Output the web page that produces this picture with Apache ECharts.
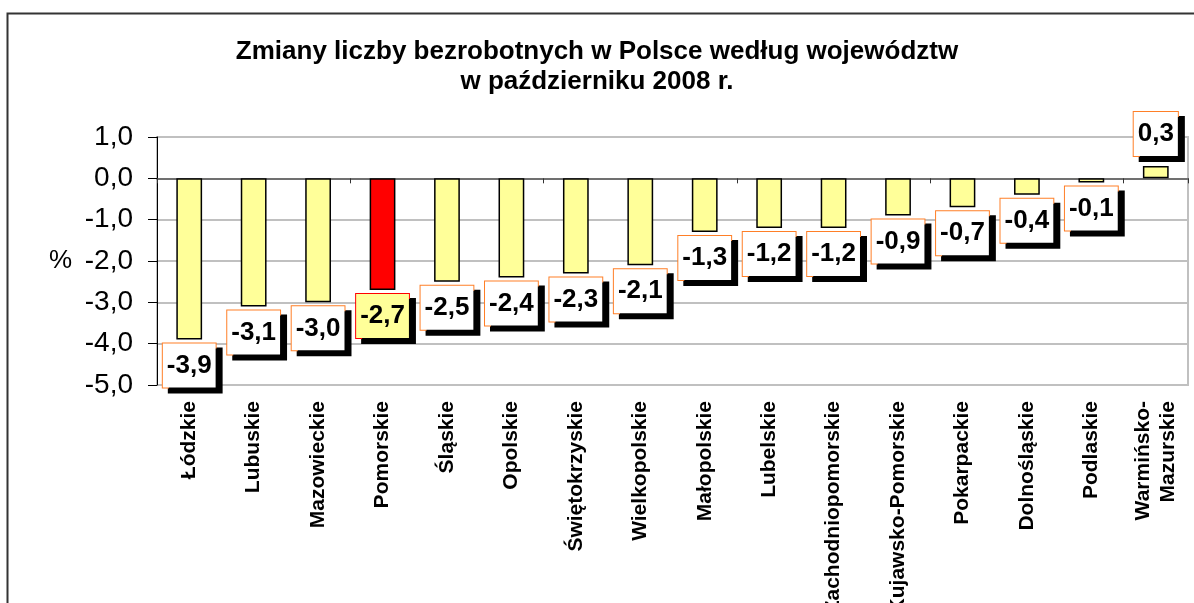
<!DOCTYPE html>
<html>
<head>
<meta charset="utf-8">
<script src="https://cdn.jsdelivr.net/npm/echarts@6/dist/echarts.min.js"></script>
<style>html,body{margin:0;padding:0;background:#fff;}#c{width:1194px;height:603px;}</style>
</head>
<body>
<div id="c"></div>
<script>
const categories = ['Łódzkie','Lubuskie','Mazowieckie','Pomorskie','Śląskie','Opolskie','Świętokrzyskie','Wielkopolskie','Małopolskie','Lubelskie','Zachodniopomorskie','Kujawsko-Pomorskie','Pokarpackie','Dolnośląskie','Podlaskie','Warmińsko-\nMazurskie'];
const values = [-3.9,-3.1,-3.0,-2.7,-2.5,-2.4,-2.3,-2.1,-1.3,-1.2,-1.2,-0.9,-0.7,-0.4,-0.1,0.3];
const highlight = 'Pomorskie';
const titleLines = ['Zmiany liczby bezrobotnych w Polsce według województw','w październiku 2008 r.'];

const FONT = '"Liberation Sans", Arial, sans-serif';
const fmt = v => v.toFixed(1).replace('.', ',');

const data = values.map((v, i) => {
  const hi = categories[i] === highlight;
  return {
    value: v,
    itemStyle: { color: hi ? '#FF0000' : '#FFFF99' },
    label: {
      position: v < 0 ? 'bottom' : 'top',
      distance: v < 0 ? 4 : 10,
      backgroundColor: hi ? '#FFFF99' : '#FFFFFF',
      borderColor: hi ? '#FF0000' : '#FF7F27'
    }
  };
});

const chart = echarts.init(document.getElementById('c'), null, { renderer: 'canvas' });
chart.setOption({
  animation: false,
  backgroundColor: '#fff',
  textStyle: { fontFamily: FONT },
  title: {
    text: titleLines.join('\n'),
    left: 'center',
    top: 32,
    textStyle: { fontFamily: FONT, fontSize: 26, fontWeight: 'bold', color: '#000', lineHeight: 30 }
  },
  graphic: [{
    type: 'rect', silent: true, z: -1,
    shape: { x: 7.5, y: 13.5, width: 1300, height: 800 },
    style: { fill: 'none', stroke: '#333', lineWidth: 2 }
  }],
  grid: { left: 157, right: 6, top: 137, bottom: 218, containLabel: false, outerBoundsMode: 'none', show: true, borderColor: '#C0C0C0', borderWidth: 2, backgroundColor: 'transparent' },
  xAxis: [{
    type: 'category',
    data: categories,
    position: 'bottom',
    axisLine: { show: false, onZero: false },
    axisTick: { show: false },
    axisLabel: { interval: 0, rotate: 90, margin: 16, fontFamily: FONT, fontSize: 21, fontWeight: 'bold', color: '#000', lineHeight: 25 }
  }, {
    type: 'category',
    data: categories,
    position: 'bottom',
    axisLine: { show: true, onZero: true, lineStyle: { color: '#555', width: 1.5 } },
    axisTick: { show: true, length: 5, lineStyle: { color: '#333', width: 1 } },
    axisLabel: { show: false }
  }],
  yAxis: {
    type: 'value',
    min: -5, max: 1, interval: 1,
    name: '%',
    nameLocation: 'middle',
    nameRotate: 0,
    nameGap: 85,
    nameTextStyle: { fontFamily: FONT, fontSize: 26, color: '#000' },
    axisLine: { show: true, lineStyle: { color: '#000', width: 1 } },
    axisTick: { show: true, length: 9, lineStyle: { color: '#000' } },
    axisLabel: { margin: 24, fontFamily: FONT, fontSize: 28, color: '#000', formatter: v => fmt(v) },
    splitLine: { show: true, lineStyle: { color: '#C0C0C0', width: 2 } }
  },
  series: [{
    type: 'bar',
    xAxisIndex: 0,
    data: data,
    barWidth: '40%',
    itemStyle: { borderColor: '#000', borderWidth: 1.5 },
    label: {
      show: true,
      formatter: p => fmt(p.value),
      fontFamily: FONT, fontSize: 26, fontWeight: 'bold', color: '#000',
      lineHeight: 26,
      padding: [9, 4, 9, 4],
      borderWidth: 1,
      shadowColor: '#000', shadowBlur: 0, shadowOffsetX: 6, shadowOffsetY: 5
    }
  }]
});
</script>
</body>
</html>
